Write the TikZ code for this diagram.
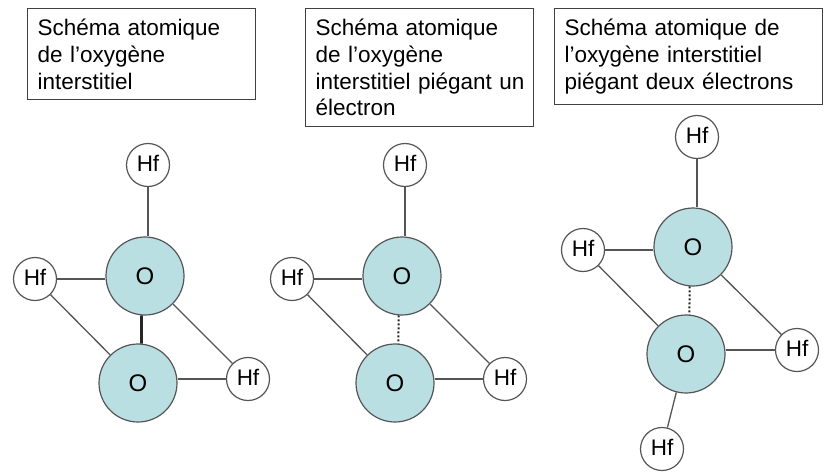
\documentclass[tikz,border=0pt]{standalone}
\usepackage{fontspec}
\setmainfont{Liberation Sans}
\usetikzlibrary{positioning}
\definecolor{oxyblue}{HTML}{B9DFE3}
\definecolor{bondgray}{HTML}{555555}
\tikzset{
  hf/.style={circle,draw=bondgray,fill=white,line width=1.2pt,minimum size=43pt,inner sep=0pt,text depth=4pt,font=\fontsize{22.5}{26}\selectfont},
  oxy/.style={circle,draw=bondgray,fill=oxyblue,line width=1.2pt,minimum size=78pt,inner sep=0pt,font=\fontsize{24}{26}\selectfont},
  caption/.style={draw=black!75,line width=1.1pt,anchor=north west,align=left,inner xsep=10pt,inner ysep=10.5pt,font=\fontsize{22.5}{26.7}\selectfont},
  bond/.style={draw=bondgray,line width=1.3pt},
  weakbond/.style={draw=black!85,line width=2pt,dash pattern=on 2pt off 2pt}
}
\begin{document}
\begin{tikzpicture}[x=1pt,y=1pt,on grid]
   \useasboundingbox (0,0) rectangle (824,-471);
   \node[caption,text width=208pt] (c_1) at (27,-8) {Schéma atomique\\de l’oxygène\\interstitiel};
   \node[caption,text width=208pt] (c_2) at (305,-8) {Schéma atomique\\de l’oxygène\\\mbox{interstitiel piégant un}\\électron};
   \node[caption,text width=248pt] (c_3) at (554,-8) {Schéma atomique de\\l’oxygène interstitiel\\piégant deux électrons};
   % left
   \node[oxy] (o_1a) at (145,-276) {O};
   \node[oxy] (o_1b) [below left=107pt and 7pt of o_1a] {O};
   \node[hf] (h_1t) [above right=111pt and 3pt of o_1a] {Hf};
   \node[hf] (h_1l) [below left=3pt and 110pt of o_1a] {Hf};
   \node[hf] (h_1r) [above right=4pt and 110pt of o_1b] {Hf};
   % middle
   \node[oxy] (o_2a) at (402,-276) {O};
   \node[oxy] (o_2b) [below left=107pt and 7pt of o_2a] {O};
   \node[hf] (h_2t) [above right=111pt and 3pt of o_2a] {Hf};
   \node[hf] (h_2l) [below left=3pt and 110pt of o_2a] {Hf};
   \node[hf] (h_2r) [above right=4pt and 110pt of o_2b] {Hf};
   % right
   \node[oxy] (o_3a) at (693,-247) {O};
   \node[oxy] (o_3b) [below left=107pt and 7pt of o_3a] {O};
   \node[hf] (h_3t) [above right=110pt and 4pt of o_3a] {Hf};
   \node[hf] (h_3l) [below left=3pt and 110pt of o_3a] {Hf};
   \node[hf] (h_3r) [above right=4pt and 111pt of o_3b] {Hf};
   \node[hf] (h_3b) [below left=95pt and 24pt of o_3b] {Hf};
    \path[bond]
    (h_1t.south) edge [] (h_1t |- o_1a.north)
    (h_1l.east) edge [] (h_1l -| o_1a.west)
    (h_1l) edge [] (o_1b)
    (h_1r) edge [] (o_1a)
    (h_1r.west) edge [] (h_1r -| o_1b.east)
    (o_1a.265) edge [line width=2.6pt,draw=black!85] (o_1b.85)
    (h_2t.south) edge [] (h_2t |- o_2a.north)
    (h_2l.east) edge [] (h_2l -| o_2a.west)
    (h_2l) edge [] (o_2b)
    (h_2r) edge [] (o_2a)
    (h_2r.west) edge [] (h_2r -| o_2b.east)
    (o_2a.265) edge [weakbond] (o_2b.85)
    (h_3t.south) edge [] (h_3t |- o_3a.north)
    (h_3l.east) edge [] (h_3l -| o_3a.west)
    (h_3l) edge [] (o_3b)
    (h_3r) edge [] (o_3a)
    (h_3r.west) edge [] (h_3r -| o_3b.east)
    (h_3b) edge [] (o_3b)
    (o_3a.265) edge [weakbond] (o_3b.85);
\end{tikzpicture}
\end{document}
